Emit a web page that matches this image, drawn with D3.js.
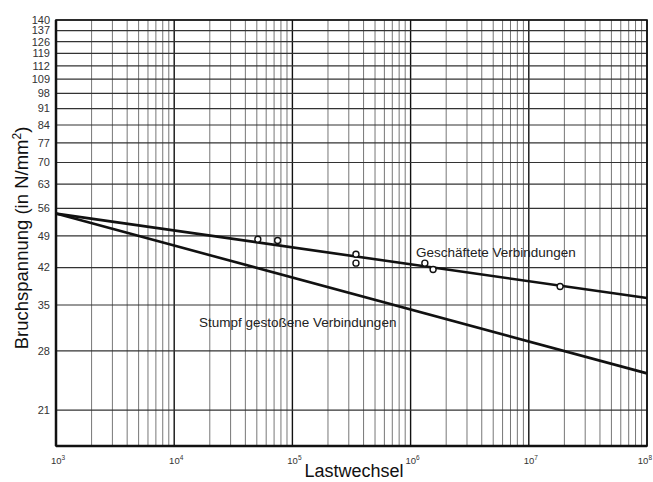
<!DOCTYPE html>
<html><head><meta charset="utf-8">
<script src="https://cdn.jsdelivr.net/npm/d3@7"></script>
<style>body{margin:0;background:#fff}svg{display:block}</style>
</head><body>
<svg id="c" width="653" height="482"></svg>
<script>
// Data
const xDecades = [1e3, 1e4, 1e5, 1e6, 1e7, 1e8];
const xDecadeLabels = ["3", "4", "5", "6", "7", "8"];
const yTickValues = [21, 28, 35, 42, 49, 56, 63, 70, 77, 84, 91, 98, 105, 112, 119, 126, 133, 140];
const yTickLabels = ["21", "28", "35", "42", "49", "56", "63", "70", "77", "84", "91", "98", "109", "112", "119", "126", "137", "140"];
const geschaeftetLine = [[1e3, 54.6], [1e8, 36.2]];
const stumpfLine = [[1e3, 54.6], [1e8, 25.1]];
const geschaeftetPoints = [[5.1e4, 48.2], [7.5e4, 47.9], [3.45e5, 44.8], [3.45e5, 42.9], [1.32e6, 42.9], [1.55e6, 41.6], [1.84e7, 38.3]];
const labelGeschaeftet = "Geschäftete Verbindungen";
const labelStumpf = "Stumpf gestoßene Verbindungen";

const L = 56, R = 647, T = 20, B = 446;
const svg = d3.select("#c");
const x = d3.scaleLog().domain([1e3, 1e8]).range([L, R]);
const y = d3.scaleLog().domain([17.63, 140]).range([B, T]);
const font = "'Liberation Sans', Arial, sans-serif";

// vertical grid (minor)
const minor = [];
for (let d = 1e3; d < 1e8; d *= 10) for (let k = 2; k <= 9; k++) minor.push(d * k);
svg.append("g").selectAll("line").data(minor).join("line")
  .attr("x1", d => x(d)).attr("x2", d => x(d)).attr("y1", T).attr("y2", B)
  .attr("stroke", "#777").attr("stroke-width", 1);
svg.append("g").selectAll("line").data(xDecades).join("line")
  .attr("x1", d => x(d)).attr("x2", d => x(d)).attr("y1", T).attr("y2", B)
  .attr("stroke", "#111").attr("stroke-width", 1.4);
// horizontal grid
svg.append("g").selectAll("line").data(yTickValues).join("line")
  .attr("x1", L).attr("x2", R).attr("y1", d => y(d)).attr("y2", d => y(d))
  .attr("stroke", "#333").attr("stroke-width", 1.2);

// frame
svg.append("rect").attr("x", L).attr("y", T).attr("width", R - L).attr("height", B - T)
  .attr("fill", "none").attr("stroke", "#111").attr("stroke-width", 1.6);
svg.append("line").attr("x1", L).attr("x2", R).attr("y1", B).attr("y2", B).attr("stroke", "#111").attr("stroke-width", 2.5);
svg.append("line").attr("x1", L).attr("x2", L).attr("y1", T).attr("y2", B).attr("stroke", "#111").attr("stroke-width", 2.5);

// y tick labels
svg.append("g").selectAll("text").data(yTickValues).join("text")
  .attr("x", L - 6).attr("y", d => y(d)).attr("dy", "0.35em")
  .attr("text-anchor", "end").attr("font-family", font).attr("font-size", 11).attr("fill", "#333")
  .text((d, i) => yTickLabels[i]);

// x tick labels
const last = xDecades.length - 1;
const xl = svg.append("g").selectAll("text").data(xDecades).join("text")
  .attr("x", (d, i) => i === last ? 652 : x(d) + 2).attr("y", 464)
  .attr("text-anchor", (d, i) => i === last ? "end" : "middle")
  .attr("font-family", font).attr("font-size", 9.5).attr("fill", "#333");
xl.append("tspan").text("10");
xl.append("tspan").attr("dy", -4).attr("font-size", 6.5).text((d, i) => xDecadeLabels[i]);

// lines
const line = d3.line().x(d => x(d[0])).y(d => y(d[1]));
svg.append("path").attr("d", line(geschaeftetLine)).attr("fill", "none").attr("stroke", "#111").attr("stroke-width", 2.6);
svg.append("path").attr("d", line(stumpfLine)).attr("fill", "none").attr("stroke", "#111").attr("stroke-width", 2.6);

// points
svg.append("g").selectAll("circle").data(geschaeftetPoints).join("circle")
  .attr("cx", d => x(d[0])).attr("cy", d => y(d[1])).attr("r", 3)
  .attr("fill", "#fff").attr("stroke", "#111").attr("stroke-width", 1.4);

// series labels
svg.append("text").attr("x", 416).attr("y", 257).attr("font-family", font).attr("font-size", 13.5).attr("fill", "#222").text(labelGeschaeftet);
svg.append("text").attr("x", 199).attr("y", 327).attr("font-family", font).attr("font-size", 13.5).attr("fill", "#222").text(labelStumpf);

// axis titles
svg.append("text").attr("x", 354).attr("y", 477).attr("text-anchor", "middle")
  .attr("font-family", font).attr("font-size", 18).attr("fill", "#111").text("Lastwechsel");
const yt = svg.append("text").attr("transform", "translate(28,238) rotate(-90)").attr("text-anchor", "middle")
  .attr("font-family", font).attr("font-size", 18.5).attr("fill", "#111");
yt.append("tspan").text("Bruchspannung (in N/mm");
yt.append("tspan").attr("dy", -7).attr("font-size", 12).text("2");
yt.append("tspan").attr("dy", 7).text(")");
</script>
</body></html>
